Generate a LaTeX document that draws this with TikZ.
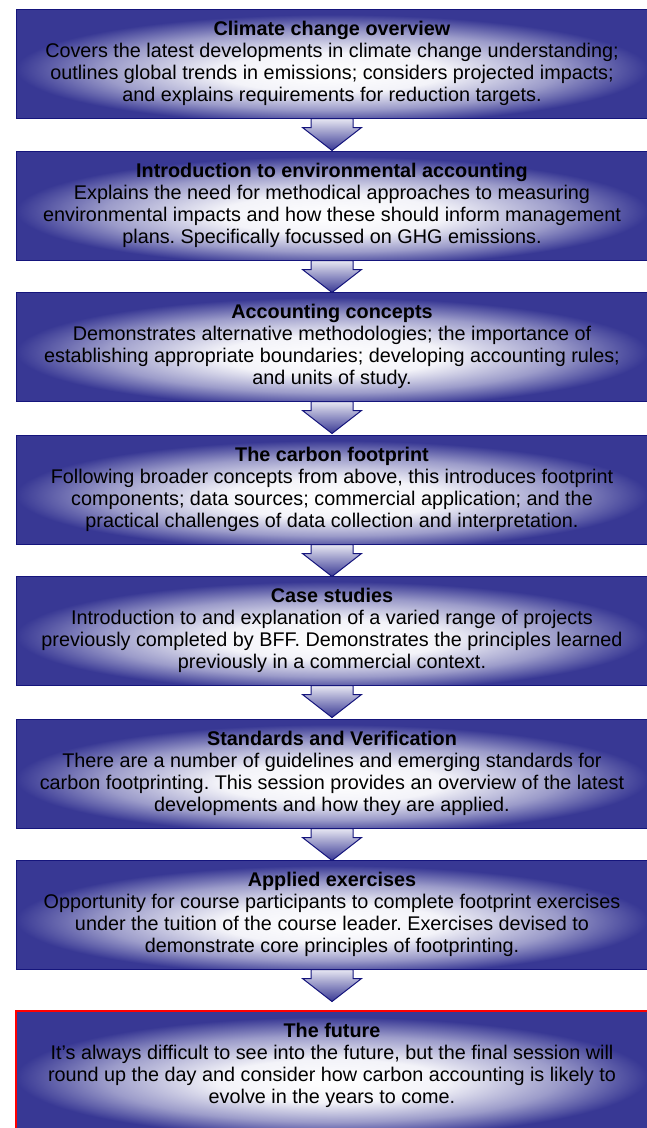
\documentclass[tikz,border=0pt]{standalone}
\usepackage{fontspec}
\setmainfont{Liberation Sans}
\usepackage{xcolor}
\usepackage{tikz}
\usetikzlibrary{calc}
\frenchspacing
\definecolor{boxblue}{HTML}{383894}
\definecolor{rim}{HTML}{15157C}
\definecolor{alert}{HTML}{FF0000}
\definecolor{ink}{HTML}{000000}
\pgfdeclareradialshading{glow}{\pgfpoint{0bp}{-5bp}}{%
  color(0bp)=(white); color(9bp)=(white!94!boxblue); color(18bp)=(boxblue!50!white);
  color(25bp)=(boxblue); color(50bp)=(boxblue)}
\tikzset{
  stage/.style={rectangle, draw=rim, line width=1pt, shading=glow,
    minimum width=632pt, minimum height=109pt, inner sep=0pt, align=center,
    text=ink, font=\fontsize{19.8}{22}\selectfont},
  last/.style={stage, draw=alert, line width=1.5pt, minimum height=120pt},
  flow/.style={draw=rim, line width=1pt, line join=miter,
    top color=boxblue!12!white, bottom color=boxblue},
}

\begin{document}
\begin{tikzpicture}[x=1pt,y=-1pt]
  \useasboundingbox (0,0) rectangle (647,1128);

  \node[stage] (s1) at (332,63.5) {\textbf{Climate change overview}\\
    Covers the latest developments in climate change understanding;\\
    outlines global trends in emissions; considers projected impacts;\\
    and explains requirements for reduction targets.};
  \node[stage] (s2) at (332,205.5) {\textbf{Introduction to environmental accounting}\\
    Explains the need for methodical approaches to measuring\\
    environmental impacts and how these should inform management\\
    plans. Specifically focussed on GHG emissions.};
  \node[stage] (s3) at (332,346.5) {\textbf{Accounting concepts}\\
    Demonstrates alternative methodologies; the importance of\\
    establishing appropriate boundaries; developing accounting rules;\\
    and units of study.};
  \node[stage] (s4) at (332,489.5) {\textbf{The carbon footprint}\\
    Following broader concepts from above, this introduces footprint\\
    components; data sources; commercial application; and the\\
    practical challenges of data collection and interpretation.};
  \node[stage] (s5) at (332,630.5) {\textbf{Case studies}\\
    Introduction to and explanation of a varied range of projects\\
    previously completed by BFF. Demonstrates the principles learned\\
    previously in a commercial context.};
  \node[stage] (s6) at (332,773.5) {\textbf{Standards and Verification}\\
    There are a number of guidelines and emerging standards for\\
    carbon footprinting. This session provides an overview of the latest\\
    developments and how they are applied.};
  \node[stage] (s7) at (332,914.5) {\textbf{Applied exercises}\\
    Opportunity for course participants to complete footprint exercises\\
    under the tuition of the course leader. Exercises devised to\\
    demonstrate core principles of footprinting.};
  \node[last] (s8) at (332,1071) {\textbf{The future}\\
    It’s always difficult to see into the future, but the final session will\\
    round up the day and consider how carbon accounting is likely to\\
    evolve in the years to come.\rule[-15pt]{0pt}{15pt}};

  % block arrows between the stages
  \foreach \a/\b in {s1/s2,s2/s3,s3/s4,s4/s5,s5/s6,s6/s7,s7/s8}
    \draw[flow] ($(\a.south)+(-21,0)$) -- ++(0,9) -- ++(-8.5,0)
      -- ($(\a.south)+(0,32)$) -- ($(\a.south)+(29.5,9)$) -- ++(-8.5,0)
      -- ($(\a.south)+(21,0)$) -- cycle;
\end{tikzpicture}
\end{document}
